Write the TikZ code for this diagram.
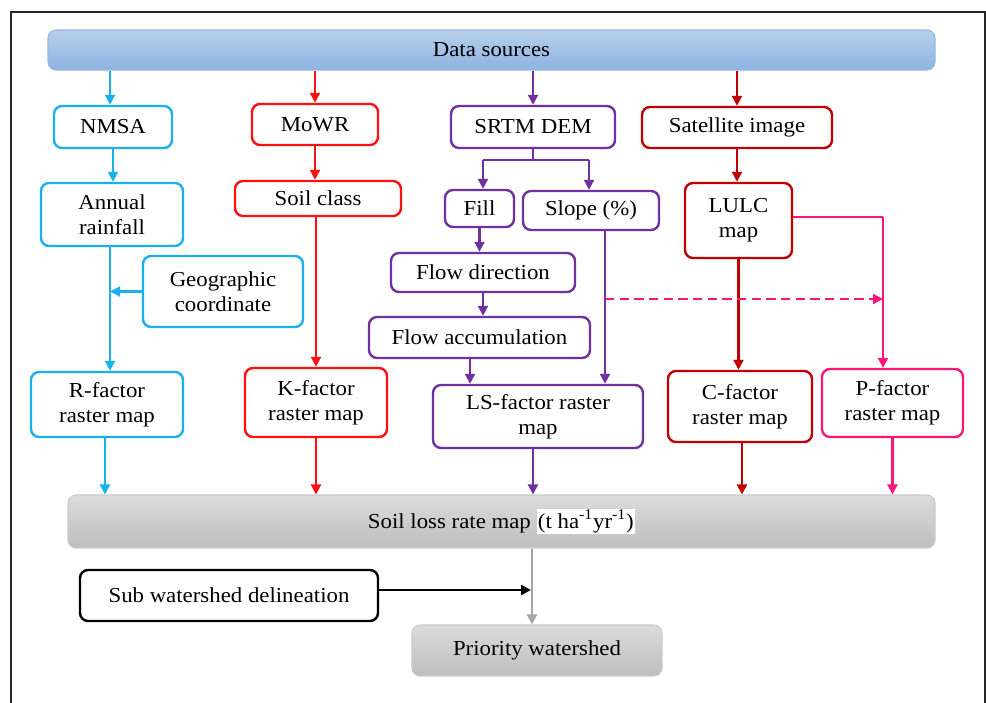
\documentclass[tikz,border=0pt]{standalone}
\usepackage{fontspec}
\setmainfont{Liberation Serif}[FakeStretch=1.07]
\usetikzlibrary{arrows.meta,calc}
\definecolor{cyanb}{HTML}{1AB0EC}
\definecolor{redb}{HTML}{FF1010}
\definecolor{purb}{HTML}{7030A0}
\definecolor{dredb}{HTML}{C00000}
\definecolor{pinkb}{HTML}{FF1478}
\definecolor{grayarr}{HTML}{A6A6A6}
\definecolor{dstop}{HTML}{B8D0EC}
\definecolor{dsbot}{HTML}{8DB3E2}
\definecolor{dsline}{HTML}{9AB8DC}
\definecolor{gtop}{HTML}{DCDCDC}
\definecolor{gbot}{HTML}{BEBEBE}
\definecolor{gline}{HTML}{CACACA}
\begin{document}
\begin{tikzpicture}[x=0.75pt,y=-0.75pt,
  font=\fontsize{16}{18.5}\selectfont,
  box/.style={draw,line width=1.8pt,rounded corners=6pt,fill=white,align=center,inner sep=2pt},
  cb/.style={box,draw=cyanb},
  rb/.style={box,draw=redb},
  pb/.style={box,draw=purb},
  db/.style={box,draw=dredb},
  kb/.style={box,draw=pinkb},
  grb/.style={draw=gline,line width=0.8pt,rounded corners=6pt,top color=gtop,bottom color=gbot,align=center},
  arr/.style={line width=1.6pt,-{Triangle[length=7.5pt,width=7.5pt]}},
  ln/.style={line width=1.6pt}]
\useasboundingbox (0,0) rectangle (986,703);
\draw[line width=1.5pt,color=black!85] (11,705) -- (11,12) -- (985,12) -- (985,705);

% top bar
\node[draw=dsline,line width=0.8pt,rounded corners=6pt,top color=dstop,bottom color=dsbot,
  minimum width=665.25pt,minimum height=30pt] (ds) at (491.5,50) {Data sources};

% row 1
\node[cb,minimum width=88.5pt,minimum height=31.5pt] (nmsa) at (113,127) {NMSA};
\node[rb,minimum width=94.5pt,minimum height=30.75pt] (mowr) at (315,124.5) {MoWR};
\node[pb,minimum width=123pt,minimum height=31.5pt] (srtm) at (533,127) {SRTM DEM};
\node[db,minimum width=142.5pt,minimum height=30.75pt] (sat) at (737,127.5) {Satellite image};

% row 2
\node[cb,minimum width=106.5pt,minimum height=47.25pt] (rain) at (112,214.5) {Annual\\rainfall};
\node[rb,minimum width=124.5pt,minimum height=26.25pt] (soil) at (318,198.5) {Soil class};
\node[pb,minimum width=51.75pt,minimum height=27.75pt] (fill) at (479.5,208.5) {Fill};
\node[pb,minimum width=102pt,minimum height=29.25pt] (slope) at (591,210.5) {Slope (\%)};
\node[db,minimum width=80.25pt,minimum height=56.25pt] (lulc) at (738.5,220.5) {LULC\\map};

% middle
\node[cb,minimum width=120pt,minimum height=53.25pt] (geo) at (223,291.5) {Geographic\\coordinate};
\node[pb,minimum width=138pt,minimum height=29.25pt] (fdir) at (483,272.5) {Flow direction};
\node[pb,minimum width=165.75pt,minimum height=30.75pt] (facc) at (479.5,337.5) {Flow accumulation};

% factor maps
\node[cb,minimum width=114pt,minimum height=48.75pt] (rf) at (107,404.5) {R-factor\\raster map};
\node[rb,minimum width=106.5pt,minimum height=51.75pt] (kf) at (316,402.5) {K-factor\\raster map};
\node[pb,minimum width=157.5pt,minimum height=47.25pt] (ls) at (538,416.5) {LS-factor raster\\map};
\node[db,minimum width=108pt,minimum height=53.25pt] (cf) at (740,406.5) {C-factor\\raster map};
\node[kb,minimum width=105.75pt,minimum height=51pt] (pf) at (892.5,403) {P-factor\\raster map};

% bottom
\node[grb,minimum width=650.25pt,minimum height=39.75pt] (sl) at (501.5,521.5)
  {Soil loss rate map {\fboxsep=1pt\colorbox{white}{(t ha\textsuperscript{-1}yr\textsuperscript{-1})}}};
\node[box,draw=black,minimum width=223.5pt,minimum height=38.25pt] (sub) at (229,595.5) {Sub watershed delineation};
\node[grb,minimum width=187.5pt,minimum height=38.25pt] (pri) at (537,650.5) {Priority watershed};

% cyan connectors
\draw[arr,cyanb] (ds.south -| 110,0) -- (nmsa.north -| 110,0);
\draw[arr,cyanb] (nmsa.south) -- (rain.north -| nmsa.south);
\draw[arr,cyanb] (rain.south -| 110,0) -- (rf.north -| 110,0);
\draw[arr,cyanb] (geo.west) -- (geo.west -| 110,0);
\draw[arr,cyanb] (rf.south -| 105,0) -- (sl.north -| 105,0);

% red connectors
\draw[arr,redb] (ds.south -| mowr.north) -- (mowr.north);
\draw[arr,redb] (mowr.south) -- (soil.north -| mowr.south);
\draw[arr,redb] (soil.south -| kf.north) -- (kf.north);
\draw[arr,redb] (kf.south) -- (sl.north -| kf.south);

% purple connectors
\draw[arr,purb] (ds.south -| srtm.north) -- (srtm.north);
\coordinate (sp) at (533,160);
\draw[ln,purb] (srtm.south) -- (sp);
\draw[ln,purb] (sp -| 483,0) -- (sp -| 589,0);
\draw[arr,purb] (sp -| 483,0) -- (fill.north -| 483,0);
\draw[arr,purb] (sp -| 589,0) -- (slope.north -| 589,0);
\draw[arr,purb] (fill.south) -- (fdir.north -| fill.south);
\draw[arr,purb] (fdir.south) -- (facc.north -| fdir.south);
\draw[arr,purb] (facc.south -| 470,0) -- (ls.north -| 470,0);
\draw[arr,purb] (slope.south -| 605,0) -- (ls.north -| 605,0);
\draw[arr,purb] (ls.south -| 533,0) -- (sl.north -| 533,0);

% dark red connectors
\draw[arr,dredb] (ds.south -| sat.north) -- (sat.north);
\draw[arr,dredb] (sat.south) -- (lulc.north -| sat.south);
\draw[arr,dredb] (lulc.south) -- (cf.north -| lulc.south);
\draw[arr,dredb] (cf.south -| 742,0) -- (sl.north -| 742,0);

% pink connectors
\coordinate (pk) at (883,217);
\draw[ln,pinkb] (lulc.east |- pk) -- (pk);
\draw[arr,pinkb] (pk) -- (pf.north -| pk);
\coordinate (dsh) at (605,299);
\draw[arr,pinkb,dashed,dash pattern=on 7pt off 4pt] (dsh) -- (dsh -| pk);
\draw[arr,pinkb] (pf.south) -- (sl.north -| pf.south);

% bottom connectors
\draw[arr,grayarr] (sl.south -| 532,0) -- (pri.north -| 532,0);
\draw[arr,black] (sub.east |- 0,590) -- (531,590);
\end{tikzpicture}
\end{document}
